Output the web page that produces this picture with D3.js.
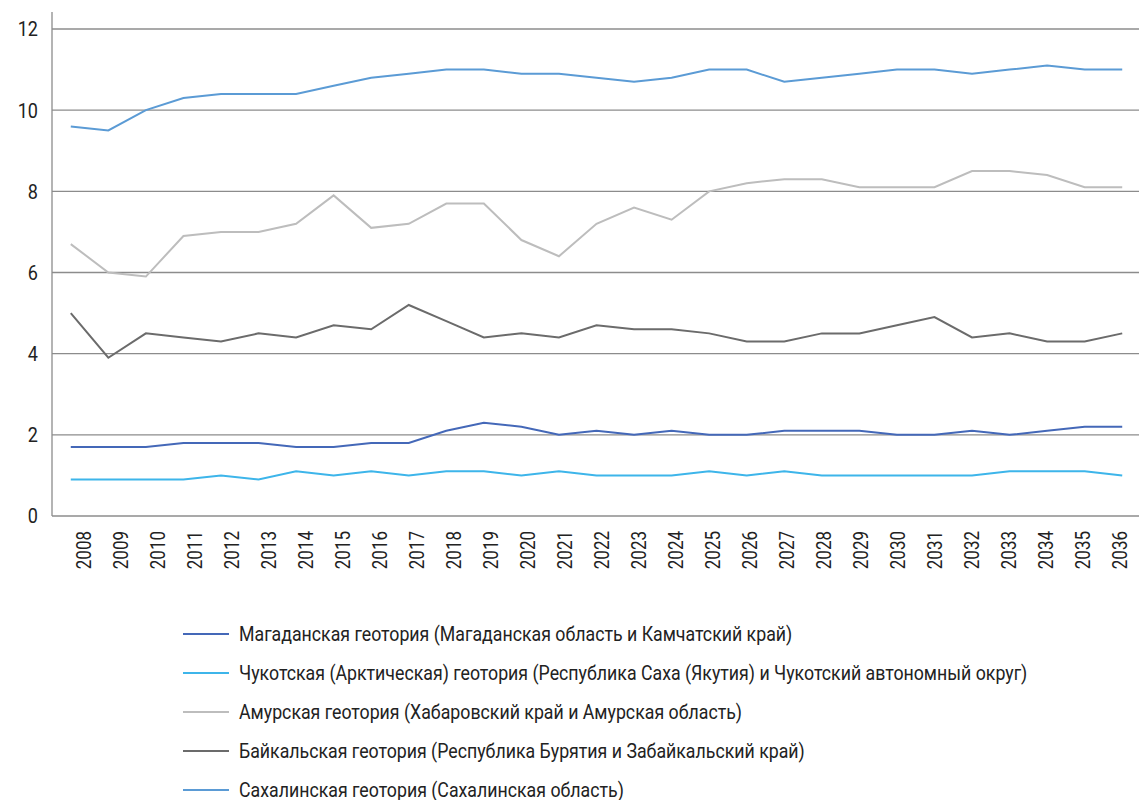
<!DOCTYPE html>
<html>
<head>
<meta charset="utf-8">
<script src="https://cdn.jsdelivr.net/npm/d3@7"></script>
<style>
  body { margin: 0; background: #fff; }
  text { font-family: Roboto, "Noto Sans", sans-serif; fill: #222; }
</style>
</head>
<body>
<div id="chart"></div>
<script>
// years on the x axis
const years = d3.range(2008, 2037).map(String);
const yTicks = [0, 2, 4, 6, 8, 10, 12];

// series values
const magadan = [1.7,1.7,1.7,1.8,1.8,1.8,1.7,1.7,1.8,1.8,2.1,2.3,2.2,2.0,2.1,2.0,2.1,2.0,2.0,2.1,2.1,2.1,2.0,2.0,2.1,2.0,2.1,2.2,2.2];
const chukotka = [0.9,0.9,0.9,0.9,1.0,0.9,1.1,1.0,1.1,1.0,1.1,1.1,1.0,1.1,1.0,1.0,1.0,1.1,1.0,1.1,1.0,1.0,1.0,1.0,1.0,1.1,1.1,1.1,1.0];
const amur = [6.7,6.0,5.9,6.9,7.0,7.0,7.2,7.9,7.1,7.2,7.7,7.7,6.8,6.4,7.2,7.6,7.3,8.0,8.2,8.3,8.3,8.1,8.1,8.1,8.5,8.5,8.4,8.1,8.1];
const baikal = [5.0,3.9,4.5,4.4,4.3,4.5,4.4,4.7,4.6,5.2,4.8,4.4,4.5,4.4,4.7,4.6,4.6,4.5,4.3,4.3,4.5,4.5,4.7,4.9,4.4,4.5,4.3,4.3,4.5];
const sakhalin = [9.6,9.5,10.0,10.3,10.4,10.4,10.4,10.6,10.8,10.9,11.0,11.0,10.9,10.9,10.8,10.7,10.8,11.0,11.0,10.7,10.8,10.9,11.0,11.0,10.9,11.0,11.1,11.0,11.0];

const seriesNames = [
  "Магаданская геотория (Магаданская область и Камчатский край)",
  "Чукотская (Арктическая) геотория (Республика Саха (Якутия) и Чукотский автономный округ)",
  "Амурская геотория (Хабаровский край и Амурская область)",
  "Байкальская геотория (Республика Бурятия и Забайкальский край)",
  "Сахалинская геотория (Сахалинская область)"
];
const seriesValues = [magadan, chukotka, amur, baikal, sakhalin];
const colors = ["#4468b8", "#3db5ea", "#bdbdbd", "#6b6b6b", "#5b9bd5"];

const W = 1139, H = 800;
const plot = { left: 52, right: 1141, top: 29, bottom: 516 };

const svg = d3.select("#chart").append("svg")
  .attr("width", W).attr("height", H);

const x = d3.scalePoint().domain(years).range([plot.left, plot.right]).padding(0.5);
// the year labels sit on a slightly tighter spacing than the points
const xLabel = d3.scalePoint().domain(years).range([84, 1120]);
const y = d3.scaleLinear().domain([0, 12]).range([plot.bottom, plot.top]);

// gridlines
svg.append("g")
  .selectAll("line")
  .data(yTicks)
  .join("line")
  .attr("x1", plot.left).attr("x2", W)
  .attr("y1", d => y(d)).attr("y2", d => y(d))
  .attr("stroke", "#8c8c8c")
  .attr("stroke-width", 1.3);

// left axis line
svg.append("line")
  .attr("x1", plot.left).attr("x2", plot.left)
  .attr("y1", 12).attr("y2", plot.bottom)
  .attr("stroke", "#8c8c8c")
  .attr("stroke-width", 1.3);

// y tick labels (condensed look via scaleX)
svg.append("g")
  .selectAll("text")
  .data(yTicks)
  .join("text")
  .attr("transform", d => `translate(38,${y(d)}) scale(0.86,1)`)
  .attr("dy", "0.35em")
  .attr("text-anchor", "end")
  .style("font-size", "21px")
  .text(d => d);

// x tick labels, rotated
svg.append("g")
  .selectAll("text")
  .data(years)
  .join("text")
  .attr("transform", d => `translate(${xLabel(d)},${plot.bottom + 15}) rotate(-90) scale(0.81,1)`)
  .attr("dy", "0.35em")
  .attr("text-anchor", "end")
  .style("font-size", "21px")
  .text(d => d);

// lines
const line = d3.line()
  .x((d, i) => x(years[i]))
  .y(d => y(d));

svg.append("g")
  .selectAll("path")
  .data(seriesValues)
  .join("path")
  .attr("d", d => line(d))
  .attr("fill", "none")
  .attr("stroke", (d, i) => colors[i])
  .attr("stroke-width", 2);

// legend
const legend = svg.append("g")
  .selectAll("g")
  .data(seriesNames)
  .join("g")
  .attr("transform", (d, i) => `translate(183,${634 + i * 39})`);

legend.append("line")
  .attr("x1", 0).attr("x2", 46)
  .attr("stroke", (d, i) => colors[i])
  .attr("stroke-width", 2);

legend.append("text")
  .attr("transform", "translate(56,0) scale(0.845,1)")
  .attr("dy", "0.35em")
  .style("font-size", "21px")
  .text(d => d);
</script>
</body>
</html>
